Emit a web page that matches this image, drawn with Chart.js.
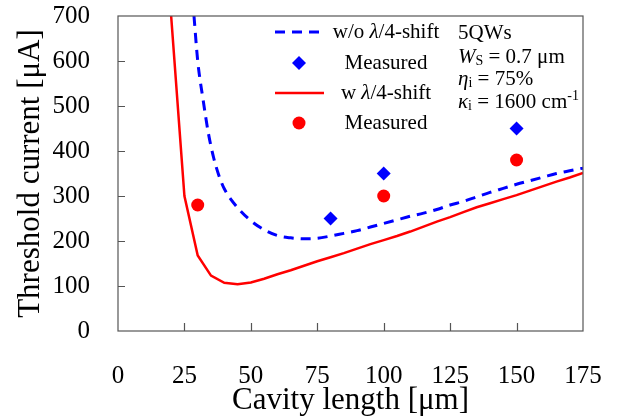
<!DOCTYPE html>
<html>
<head>
<meta charset="utf-8">
<script src="https://cdn.jsdelivr.net/npm/chart.js@4.4.1/dist/chart.umd.min.js"></script>
<style>
  body { margin: 0; background: #fff; }
  #wrap { width: 626px; height: 419px; }
</style>
</head>
<body>
<div id="wrap"><canvas id="thChart" width="626" height="419"></canvas></div>
<script>
// simulated curves
const shiftLengths = [20, 25, 30, 35, 40, 45, 50, 55, 60, 65, 70, 75, 80, 85, 90, 95, 100, 105, 110, 115, 120, 125, 130, 135, 140, 145, 150, 155, 160, 165, 170, 175];
const withShift = [700, 300, 168, 123, 107, 104, 108, 116, 126, 135, 145, 155, 164, 173, 183, 193, 202, 211, 221, 232, 243, 253, 264, 275, 284, 293, 302, 312, 322, 332, 341, 351];

const noShiftLengths = [28.6, 30, 32, 34, 36, 38, 40, 45, 50, 55, 60, 65, 70, 75, 80, 85, 90, 95, 100, 105, 110, 115, 120, 125, 130, 135, 140, 145, 150, 155, 160, 165, 170, 175];
const withoutShift = [700, 600, 515, 440, 385, 345, 316, 274, 245, 225, 212, 207, 205, 206, 211, 217, 223, 231, 239, 247, 255, 262, 270, 280, 288, 298, 308, 317, 326, 334, 342, 350, 356, 362];

// measured devices
const measuredNoShiftLengths = [80, 100, 150];
const measuredNoShift = [250, 350, 450];
const measuredShiftLengths = [30, 100, 150];
const measuredShift = [280, 300, 380];

const xTicks = [0, 25, 50, 75, 100, 125, 150, 175];
const yTicks = [0, 100, 200, 300, 400, 500, 600, 700];

const BLUE = '#0000ff';
const RED = '#ff0000';
const SERIF = '"Liberation Serif", "Times New Roman", serif';

function pts(xs, ys) {
  return xs.map((x, i) => ({ x: x, y: ys[i] }));
}

// box round the plot with inward ticks
const frame = {
  id: 'frame',
  afterDatasetsDraw(chart) {
    const { ctx, chartArea: a, scales } = chart;
    ctx.save();
    ctx.strokeStyle = '#555';
    ctx.lineWidth = 1.2;
    ctx.strokeRect(a.left, a.top, a.right - a.left, a.bottom - a.top);
    ctx.beginPath();
    xTicks.slice(1, -1).forEach(v => {
      const px = Math.round(scales.x.getPixelForValue(v)) + 0.5;
      ctx.moveTo(px, a.bottom);
      ctx.lineTo(px, a.bottom - 8);
    });
    yTicks.slice(1, -1).forEach(v => {
      const py = Math.round(scales.y.getPixelForValue(v)) + 0.5;
      ctx.moveTo(a.left, py);
      ctx.lineTo(a.left + 7, py);
    });
    ctx.stroke();
    ctx.restore();
  }
};

// draw a line of text made of styled pieces (sub/superscripts)
function runs(ctx, x, y, parts) {
  let cx = x;
  parts.forEach(p => {
    const size = p.size || 21;
    ctx.font = (p.italic ? 'italic ' : '') + size + 'px ' + SERIF;
    ctx.fillText(p.t, cx, y + (p.dy || 0));
    cx += ctx.measureText(p.t).width;
  });
}

const legendBox = {
  id: 'legendBox',
  afterDraw(chart) {
    const ctx = chart.ctx;
    ctx.save();
    ctx.textBaseline = 'middle';

    // left column: symbols
    ctx.strokeStyle = BLUE;
    ctx.lineWidth = 3;
    ctx.setLineDash([10, 7]);
    ctx.beginPath(); ctx.moveTo(275, 32); ctx.lineTo(324, 32); ctx.stroke();
    ctx.setLineDash([]);
    ctx.fillStyle = BLUE;
    ctx.beginPath();
    ctx.moveTo(299, 56); ctx.lineTo(306, 63); ctx.lineTo(299, 70); ctx.lineTo(292, 63);
    ctx.closePath(); ctx.fill();
    ctx.strokeStyle = RED;
    ctx.lineWidth = 2.5;
    ctx.beginPath(); ctx.moveTo(275, 93); ctx.lineTo(324, 93); ctx.stroke();
    ctx.fillStyle = RED;
    ctx.beginPath(); ctx.arc(299, 123, 6.5, 0, Math.PI * 2); ctx.fill();

    // left column: labels, centred
    ctx.fillStyle = '#000';
    ctx.textAlign = 'left';
    const items = [
      [[{ t: 'w/o ' }, { t: 'λ', italic: true }, { t: '/4-shift' }], 32],
      [[{ t: 'Measured' }], 63],
      [[{ t: 'w ' }, { t: 'λ', italic: true }, { t: '/4-shift' }], 93],
      [[{ t: 'Measured' }], 123]
    ];
    items.forEach(([parts, y]) => {
      let w = 0;
      parts.forEach(p => {
        ctx.font = (p.italic ? 'italic ' : '') + '21px ' + SERIF;
        w += ctx.measureText(p.t).width;
      });
      runs(ctx, 386 - w / 2, y, parts);
    });

    // right column: device parameters
    runs(ctx, 458, 33, [{ t: '5QWs' }]);
    runs(ctx, 458, 57, [{ t: 'W', italic: true }, { t: 'S', size: 14, dy: 4 }, { t: ' = 0.7 μm' }]);
    runs(ctx, 458, 79, [{ t: 'η', italic: true }, { t: 'i', size: 14, dy: 4 }, { t: ' = 75%' }]);
    runs(ctx, 458, 102, [{ t: 'κ', italic: true }, { t: 'i', size: 14, dy: 4 }, { t: ' = 1600 cm' }, { t: '-1', size: 14, dy: -6 }]);
    ctx.restore();
  }
};

const ctx = document.getElementById('thChart');

const data = {
  datasets: [
    {
      label: 'w/o λ/4-shift',
      data: pts(noShiftLengths, withoutShift),
      showLine: true,
      borderColor: BLUE,
      borderWidth: 3,
      borderDash: [10, 7],
      pointRadius: 0,
      cubicInterpolationMode: 'monotone'
    },
    {
      label: 'Measured',
      data: pts(measuredNoShiftLengths, measuredNoShift),
      pointStyle: 'rectRot',
      pointRadius: 7,
      backgroundColor: BLUE,
      borderColor: BLUE,
      borderWidth: 0
    },
    {
      label: 'w λ/4-shift',
      data: pts(shiftLengths, withShift),
      showLine: true,
      borderColor: RED,
      borderWidth: 2.5,
      pointRadius: 0,
      tension: 0
    },
    {
      label: 'Measured',
      data: pts(measuredShiftLengths, measuredShift),
      pointStyle: 'circle',
      pointRadius: 6.5,
      backgroundColor: RED,
      borderColor: RED,
      borderWidth: 0
    }
  ]
};

const config = {
  type: 'scatter',
  data: data,
  options: {
    responsive: false,
    animation: false,
    devicePixelRatio: 1,
    layout: { padding: { top: 16, right: 43, left: 0, bottom: 0 } },
    plugins: {
      legend: { display: false },
      tooltip: { enabled: false }
    },
    scales: {
      x: {
        type: 'linear',
        min: 0,
        max: 175,
        afterBuildTicks: s => { s.ticks = xTicks.map(v => ({ value: v })); },
        afterFit: s => { s.height = 88; s.paddingLeft = 0; s.paddingRight = 0; },
        grid: { display: false, drawTicks: false },
        border: { display: false },
        ticks: { color: '#000', padding: 30, maxRotation: 0, font: { family: SERIF, size: 25 } },
        title: {
          display: true,
          text: 'Cavity length [μm]',
          color: '#000',
          font: { family: SERIF, size: 31 },
          padding: 0
        }
      },
      y: {
        min: 0,
        max: 700,
        afterBuildTicks: s => { s.ticks = yTicks.map(v => ({ value: v })); },
        afterFit: s => { s.width = 118; s.paddingTop = 0; s.paddingBottom = 0; },
        grid: { display: false, drawTicks: false },
        border: { display: false },
        ticks: { color: '#000', padding: 28, font: { family: SERIF, size: 25 } },
        title: {
          display: true,
          text: 'Threshold current [μA]',
          color: '#000',
          font: { family: SERIF, size: 31 },
          padding: { top: 12, bottom: 0 }
        }
      }
    }
  },
  plugins: [frame, legendBox]
};

new Chart(ctx, config);
</script>
</body>
</html>
